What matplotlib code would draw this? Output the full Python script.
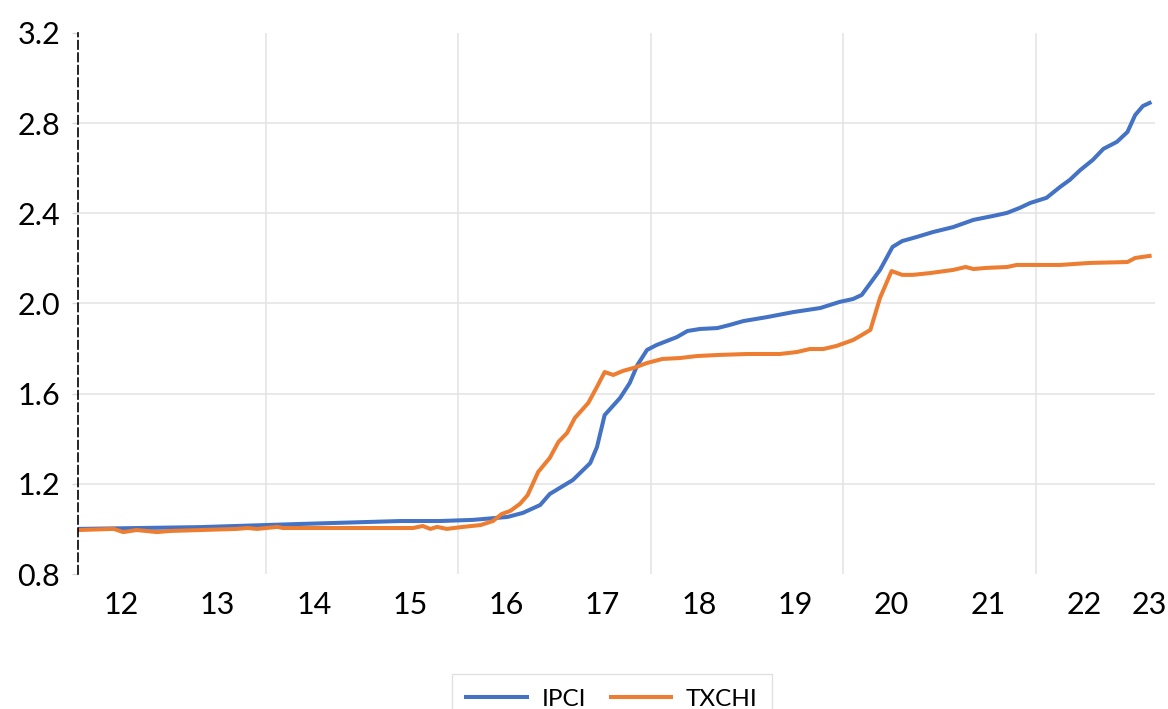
import matplotlib
matplotlib.use("Agg")
import matplotlib.pyplot as plt

plt.rcParams['font.family'] = ['Lato', 'DejaVu Sans']

# ---- data (decimal years, index level) ----
ipci_t = [2012.05, 2013.32, 2014.36, 2015.40, 2015.81, 2016.15, 2016.51, 2016.67,
          2016.85, 2016.95, 2017.19, 2017.37, 2017.44, 2017.52, 2017.68, 2017.78,
          2017.86, 2017.96, 2018.06, 2018.27, 2018.38, 2018.51, 2018.69, 2018.82,
          2018.96, 2019.21, 2019.48, 2019.76, 2019.96, 2020.10, 2020.19, 2020.38,
          2020.51, 2020.61, 2020.76, 2020.93, 2021.14, 2021.35, 2021.55, 2021.70,
          2021.83, 2021.94, 2022.11, 2022.25, 2022.35, 2022.46, 2022.59, 2022.70,
          2022.84, 2022.95, 2023.03, 2023.11, 2023.18]
ipci_v = [1.000, 1.008, 1.022, 1.035, 1.035, 1.040, 1.053, 1.071,
          1.106, 1.155, 1.217, 1.292, 1.363, 1.505, 1.581, 1.647,
          1.727, 1.794, 1.816, 1.851, 1.878, 1.887, 1.891, 1.905,
          1.922, 1.940, 1.962, 1.980, 2.007, 2.020, 2.038, 2.149,
          2.251, 2.277, 2.295, 2.317, 2.339, 2.371, 2.388, 2.402,
          2.424, 2.446, 2.469, 2.517, 2.548, 2.592, 2.637, 2.686,
          2.717, 2.761, 2.836, 2.876, 2.890]

txchi_t = [2012.05, 2012.42, 2012.52, 2012.66, 2012.87, 2013.01, 2013.70, 2013.81,
           2013.91, 2014.12, 2014.18, 2015.53, 2015.63, 2015.71, 2015.78, 2015.88,
           2016.05, 2016.23, 2016.36, 2016.45, 2016.54, 2016.64, 2016.72, 2016.83,
           2016.95, 2017.04, 2017.13, 2017.21, 2017.35, 2017.44, 2017.52, 2017.61,
           2017.71, 2017.82, 2017.96, 2018.12, 2018.30, 2018.48, 2018.72, 2019.00,
           2019.34, 2019.52, 2019.65, 2019.79, 2019.93, 2020.10, 2020.19, 2020.28,
           2020.38, 2020.50, 2020.61, 2020.72, 2020.90, 2021.14, 2021.27, 2021.35,
           2021.49, 2021.70, 2021.80, 2022.25, 2022.56, 2022.95, 2023.03, 2023.18]
txchi_v = [0.995, 1.000, 0.986, 0.995, 0.986, 0.991, 1.000, 1.004,
           1.000, 1.009, 1.004, 1.004, 1.013, 1.000, 1.009, 1.000,
           1.009, 1.017, 1.035, 1.066, 1.080, 1.111, 1.150, 1.253,
           1.315, 1.386, 1.426, 1.492, 1.559, 1.630, 1.696, 1.683,
           1.701, 1.714, 1.736, 1.754, 1.758, 1.767, 1.772, 1.776,
           1.776, 1.785, 1.798, 1.798, 1.812, 1.838, 1.860, 1.883,
           2.025, 2.144, 2.127, 2.127, 2.135, 2.149, 2.162, 2.153,
           2.158, 2.162, 2.171, 2.171, 2.180, 2.184, 2.202, 2.211]

tick_pos = [2012.5, 2013.5, 2014.5, 2015.5, 2016.5, 2017.5, 2018.5, 2019.5,
            2020.5, 2021.5, 2022.5, 2023.18]
tick_labels = ['12', '13', '14', '15', '16', '17', '18', '19', '20', '21', '22', '23']
grid_x = [2014, 2016, 2018, 2020, 2022]
y_ticks = [0.8, 1.2, 1.6, 2.0, 2.4, 2.8, 3.2]
y_labels = ['0.8', '1.2', '1.6', '2.0', '2.4', '2.8', '3.2']

fig = plt.figure(figsize=(11.68, 7.09), dpi=100)
ax = fig.add_axes([78 / 1168, 1 - 574 / 709, (1155 - 78) / 1168, (574 - 33) / 709])

ax.plot(ipci_t, ipci_v, color='#4472C4', lw=2.9, label='IPCI', solid_joinstyle='round', zorder=3)
ax.plot(txchi_t, txchi_v, color='#ED7D31', lw=2.9, label='TXCHI', solid_joinstyle='round', zorder=3)

ax.set_xlim(2012.05, 2023.236)
ax.set_ylim(0.8, 3.2)

ax.set_yticks(y_ticks)
ax.set_yticklabels(y_labels)
ax.set_xticks(tick_pos)
ax.set_xticklabels(tick_labels)
ax.set_xticks(grid_x, minor=True)

ax.tick_params(axis='y', which='major', length=4.3, color='#D9D9D9', width=1,
               pad=8.5, labelsize=22)
ax.tick_params(axis='x', which='major', length=0, pad=12, labelsize=22)
ax.tick_params(axis='x', which='minor', length=0)

ax.grid(axis='y', which='major', color='#E3E3E3', lw=1.1)
ax.grid(axis='x', which='minor', color='#E3E3E3', lw=1.1)
ygl = ax.get_ygridlines()
ygl[0].set_visible(False)
ygl[-1].set_visible(False)
ax.set_axisbelow(True)

for s in ['top', 'right', 'bottom']:
    ax.spines[s].set_visible(False)
ax.spines['left'].set_linestyle((0, (5, 2.5)))
ax.spines['left'].set_linewidth(1.2)
ax.spines['left'].set_color('black')
ax.spines['left'].set_zorder(4)

leg = fig.legend(loc='upper center', bbox_to_anchor=(0.524, 0.066), ncol=2,
                 fontsize=17.5, frameon=True, fancybox=False, edgecolor='#D9D9D9',
                 handlelength=2.5, handletextpad=0.6, columnspacing=1.0,
                 borderpad=0.6)
leg.get_frame().set_linewidth(1.0)

fig.savefig('out.png', dpi=100)
